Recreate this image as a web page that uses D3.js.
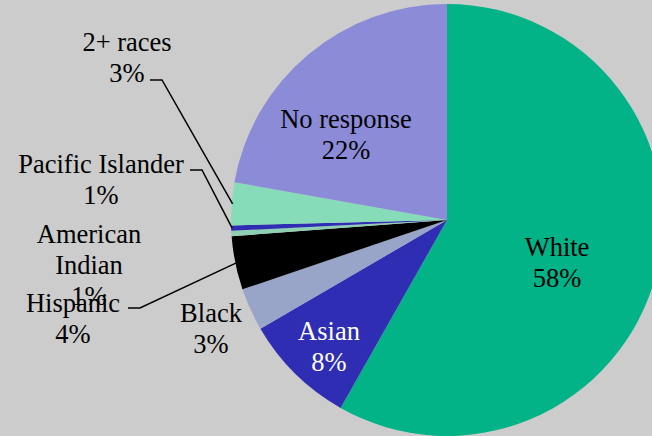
<!DOCTYPE html>
<html>
<head>
<meta charset="utf-8">
<script src="https://cdn.jsdelivr.net/npm/d3@7"></script>
</head>
<body style="margin:0;background:#cccccc">
<svg id="chart" width="652" height="436" style="display:block;background:#cccccc"></svg>
<script>
// ---- data ----
const categories = ["White", "Asian", "Black", "Hispanic", "American Indian", "Pacific Islander", "2+ races", "No response"];
const values = [58.2, 8.4, 3.2, 4.0, 0.4, 0.4, 3.2, 22.2];
const percentLabels = ["58%", "8%", "3%", "4%", "1%", "1%", "3%", "22%"];
const labelLines = [["White"], ["Asian"], ["Black"], ["Hispanic"], ["American", "Indian"], ["Pacific Islander"], ["2+ races"], ["No response"]];
const colors = ["#01b387", "#2e2db3", "#98a4c8", "#000000", "#8fd0b3", "#2e2db3", "#86dbb9", "#8b8bd8"];
const textColors = ["#000", "#fff", "#000", "#000", "#000", "#000", "#000", "#000"];

// ---- layout (label placement relative to pie centre) ----
const cx = 447, cy = 220, R = 216;
const fontSize = 26.5, lineH = 31;
const labelPos = [
  { dx: 110, dy: 36 },
  { dx: -118, dy: 120 },
  { dx: -236, dy: 102 },
  { dx: -374, dy: 92, leader: { x0: -319, x1: -307, y: 88 } },
  { dx: -358, dy: 23 },
  { dx: -346, dy: -47, leader: { x0: -257, x1: -245, y: -50 } },
  { dx: -320, dy: -169, leader: { x0: -297, x1: -285, y: -140 } },
  { dx: -101, dy: -92 }
];

const svg = d3.select("#chart");
const g = svg.append("g").attr("transform", `translate(${cx},${cy})`);

const pie = d3.pie().sort(null).value(d => d).startAngle(0).endAngle(2 * Math.PI);
const arcs = pie(values);
const arc = d3.arc().innerRadius(0).outerRadius(R);

g.selectAll("path.slice")
  .data(arcs)
  .join("path")
  .attr("class", "slice")
  .attr("d", arc)
  .attr("fill", (d, i) => colors[i]);

// leader lines
arcs.forEach((d, i) => {
  const L = labelPos[i].leader;
  if (!L) return;
  const mid = (d.startAngle + d.endAngle) / 2;
  const ex = Math.sin(mid) * (R - 1);
  const ey = -Math.cos(mid) * (R - 1);
  g.append("path")
    .attr("d", d3.line()([[L.x0, L.y], [L.x1, L.y], [ex, ey]]))
    .attr("fill", "none")
    .attr("stroke", "#000")
    .attr("stroke-width", 1.5);
});

// labels: one text element per line
arcs.forEach((d, i) => {
  const p = labelPos[i];
  const lines = labelLines[i].concat([percentLabels[i]]);
  lines.forEach((s, k) => {
    svg.append("text")
      .attr("x", cx + p.dx)
      .attr("y", cy + p.dy + k * lineH)
      .attr("text-anchor", "middle")
      .attr("font-family", "Liberation Serif")
      .style("font-family", `"Liberation Serif"`)
      .style("font-size", fontSize + "px")
      .attr("fill", textColors[i])
      .text(s);
  });
});
</script>
</body>
</html>
